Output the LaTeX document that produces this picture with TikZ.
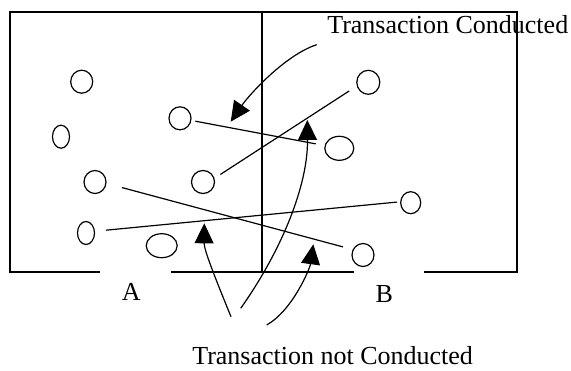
\documentclass[tikz,border=0pt]{standalone}
\usepackage{fontspec}
\setmainfont{Liberation Serif}
\usetikzlibrary{shapes.geometric,arrows.meta}
\tikzset{
  ell/.style 2 args={draw,ellipse,inner sep=0pt,minimum width=#1pt,minimum height=#2pt},
  lbl/.style={font=\fontsize{26}{30}\selectfont,inner sep=0pt},
  arr/.style={-{Triangle[length=20pt,width=19pt]}},
  link/.style={line cap=butt},
}
\begin{document}
\begin{tikzpicture}[x=1pt,y=-1pt,line width=1.2pt]
\useasboundingbox (0,0) rectangle (571,370);
% outer frame with openings
\draw (100,272) -- (10,272) -- (10,12) -- (517,12) -- (517,272) -- (424,272);
\draw (171,272) -- (354,272);
\draw (262,12) -- (262,272);
% circles
\node[ell={22}{23}] (c1) at (81.7,81.7) {};
\node[ell={17}{23}] (c2) at (61,136.7) {};
\node[ell={22}{23}] (c3) at (180,118.3) {};
\node[ell={22}{23}] (c4) at (95,182) {};
\node[ell={23}{23}] (c5) at (203,182) {};
\node[ell={17}{23}] (c6) at (86,233) {};
\node[ell={31}{24}] (c7) at (161.7,245.7) {};
\node[ell={23}{24}] (c8) at (368.3,82.3) {};
\node[ell={29}{24}] (c9) at (339.3,148.3) {};
\node[ell={20}{22}] (c10) at (410.7,202.7) {};
\node[ell={22}{23}] (c11) at (363,255) {};
% transaction lines
\draw[link,shorten <=4pt,shorten >=9pt] (c3) -- (c9);
\draw[link,shorten <=7pt,shorten >=9pt] (c5.18) -- (c8.198);
\draw[link,shorten <=16pt,shorten >=10pt] (c4.-7) -- (c11.152);
\draw[link,shorten <=11pt,shorten >=3pt] (c6.11) -- (c10.175);
% labels
\node[lbl,anchor=base west] (tc) at (326.7,33) {Transaction Conducted};
\node[lbl,anchor=base] (la) at (131.3,300) {A};
\node[lbl,anchor=base] (lb) at (384.3,302) {B};
\node[lbl,anchor=base west] (tn) at (191.7,364.3) {Transaction not Conducted};
% arrow ends
\coordinate (a1s) at (316.7,44.7);
\coordinate (a1e) at (230.7,121.7);
\coordinate (a2s) at (231,316.7);
\coordinate (a2e) at (204.3,223.3);
\coordinate (a3s) at (240.7,308.3);
\coordinate (a3e) at (307.3,120);
\coordinate (a4s) at (266.7,325);
\coordinate (a4e) at (313.3,244.3);
% arrows
\draw[arr] (a1s) .. controls (285,55) and (249,95) .. (a1e);
\draw[arr] (a2s) .. controls (216,280) and (204,250) .. (a2e);
\draw[arr] (a3s) .. controls (282,250) and (308,185) .. (a3e);
\draw[arr] (a4s) .. controls (293,310) and (310,268) .. (a4e);
\end{tikzpicture}
\end{document}
